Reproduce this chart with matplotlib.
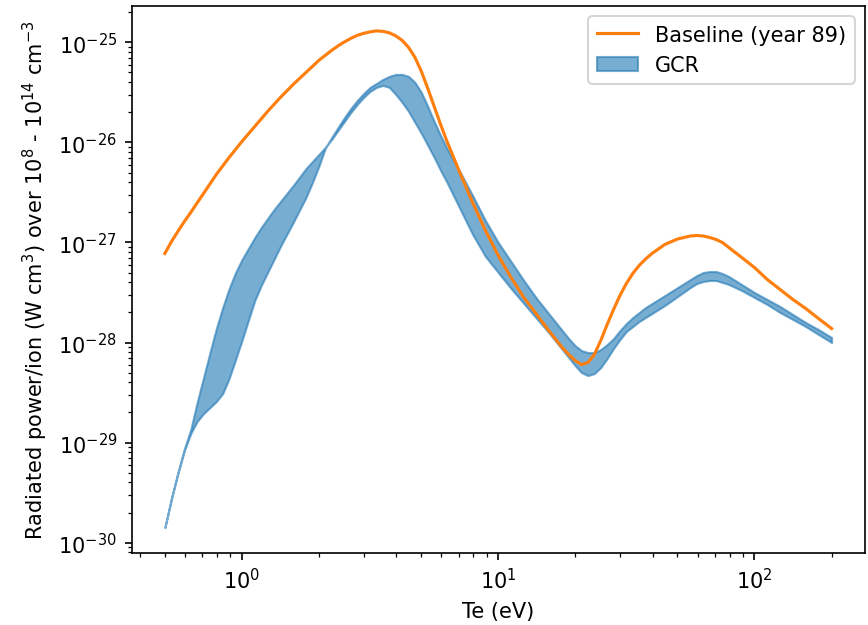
import matplotlib
matplotlib.use("Agg")
import matplotlib.pyplot as plt
import numpy as np

# electron temperature grid (eV)
te = [0.5, 0.531, 0.562, 0.596, 0.631, 0.668, 0.708, 0.75, 0.794, 0.841,
      0.891, 0.944, 1.0, 1.059, 1.122, 1.189, 1.259, 1.334, 1.413, 1.585,
      1.778, 1.884, 1.995, 2.113, 2.239, 2.371, 2.512, 2.661, 2.818, 2.985,
      3.162, 3.35, 3.548, 3.758, 3.981, 4.217, 4.467, 4.732, 5.012, 5.309,
      5.623, 5.957, 6.31, 7.079, 7.943, 8.913, 10.0, 11.22, 12.59, 14.13,
      15.85, 17.78, 18.84, 19.95, 21.13, 22.39, 23.71, 25.12, 26.61, 28.18,
      29.85, 31.62, 33.5, 35.48, 37.58, 39.81, 44.67, 50.12, 56.23, 59.57,
      63.1, 66.83, 70.79, 74.99, 79.43, 89.13, 100.0, 112.2, 125.9, 141.3,
      158.5, 177.8, 200.0]

# log10 of radiated power per ion (W cm^3)
log_baseline = [-27.11, -26.99, -26.89, -26.79, -26.70, -26.605, -26.51, -26.415, -26.32, -26.235,
                -26.15, -26.07, -25.99, -25.915, -25.84, -25.765, -25.69, -25.62, -25.55, -25.42,
                -25.30, -25.24, -25.18, -25.13, -25.08, -25.035, -24.995, -24.96, -24.93, -24.91,
                -24.895, -24.885, -24.89, -24.905, -24.935, -24.98, -25.05, -25.15, -25.29, -25.46,
                -25.64, -25.82, -25.99, -26.30, -26.60, -26.88, -27.13, -27.35, -27.55, -27.72,
                -27.89, -28.05, -28.12, -28.18, -28.22, -28.20, -28.12, -27.98, -27.82, -27.67,
                -27.53, -27.41, -27.31, -27.23, -27.165, -27.11, -27.02, -26.965, -26.935, -26.93,
                -26.935, -26.95, -26.97, -27.00, -27.05, -27.15, -27.25, -27.37, -27.47, -27.57,
                -27.66, -27.76, -27.86]

# GCR range: the two bounding curves (they cross near 2 eV)
log_gcr_a = [-29.85, -29.55, -29.30, -29.06, -28.87, -28.60, -28.35, -28.10, -27.86, -27.65,
             -27.46, -27.30, -27.17, -27.06, -26.95, -26.85, -26.76, -26.67, -26.59, -26.43,
             -26.26, -26.19, -26.12, -26.05, -25.97, -25.88, -25.79, -25.70, -25.62, -25.55,
             -25.49, -25.45, -25.43, -25.45, -25.52, -25.60, -25.69, -25.80, -25.91, -26.03,
             -26.15, -26.28, -26.40, -26.66, -26.92, -27.14, -27.30, -27.46, -27.61, -27.76,
             -27.91, -28.07, -28.15, -28.23, -28.30, -28.33, -28.31, -28.25, -28.16, -28.06,
             -27.97, -27.89, -27.84, -27.79, -27.75, -27.71, -27.63, -27.54, -27.45, -27.41,
             -27.39, -27.38, -27.38, -27.40, -27.42, -27.48, -27.55, -27.62, -27.70, -27.77,
             -27.84, -27.92, -28.00]
log_gcr_b = [-29.85, -29.56, -29.31, -29.08, -28.91, -28.79, -28.71, -28.65, -28.59, -28.51,
             -28.36, -28.17, -27.98, -27.78, -27.58, -27.43, -27.30, -27.17, -27.04, -26.80,
             -26.55, -26.40, -26.24, -26.06, -25.95, -25.85, -25.75, -25.66, -25.58, -25.51,
             -25.45, -25.41, -25.37, -25.34, -25.32, -25.32, -25.34, -25.40, -25.50, -25.64,
             -25.79, -25.93, -26.06, -26.29, -26.53, -26.78, -27.00, -27.19, -27.38, -27.56,
             -27.72, -27.88, -27.96, -28.03, -28.08, -28.10, -28.10, -28.07, -28.02, -27.96,
             -27.88, -27.81, -27.75, -27.70, -27.65, -27.61, -27.53, -27.45, -27.37, -27.33,
             -27.30, -27.29, -27.29, -27.31, -27.34, -27.42, -27.50, -27.57, -27.64, -27.72,
             -27.80, -27.87, -27.95]

te = np.array(te)
baseline = np.power(10.0, log_baseline)
gcr_a = np.power(10.0, log_gcr_a)
gcr_b = np.power(10.0, log_gcr_b)

fig = plt.figure(figsize=(868 / 150, 626 / 150), dpi=150)
ax = fig.add_axes([0.1515, 0.1158, 0.845, 0.873])

ax.plot(te, baseline, color='C1', label='Baseline (year 89)')
ax.fill_between(te, gcr_a, gcr_b, color='C0', alpha=0.6, label='GCR')

ax.set_xscale('log')
ax.set_yscale('log')
ax.set_xlabel('Te (eV)')
ax.set_ylabel('Radiated power/ion (W cm$^3$) over 10$^8$ - 10$^{14}$ cm$^{-3}$')
ax.legend(loc='upper right')

fig.savefig('out.png', dpi=150)
